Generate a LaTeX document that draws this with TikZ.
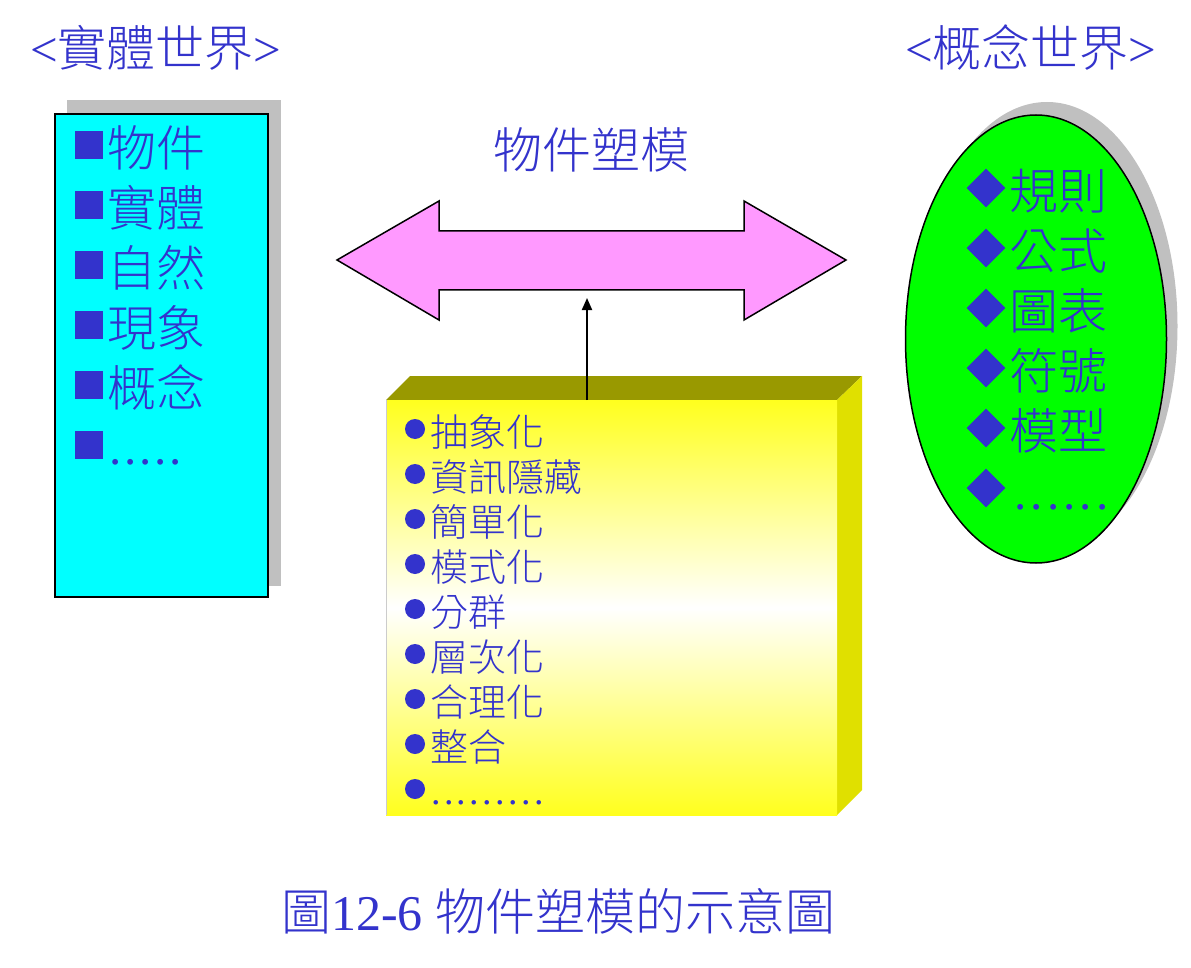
\documentclass[tikz,border=0pt]{standalone}
\usepackage{fontspec}
\setmainfont{Liberation Serif}
\IfFontExistsTF{Noto Sans CJK TC Light}{\newfontfamily\cjk{Noto Sans CJK TC Light}}{\newfontfamily\cjk{Noto Sans CJK TC}}
\newfontfamily\lat{Liberation Serif}
\usetikzlibrary{arrows.meta,shapes.geometric}
\definecolor{txtblue}{RGB}{51,51,204}
\definecolor{cyanbox}{RGB}{0,255,255}
\definecolor{pinkarrow}{RGB}{255,153,255}
\definecolor{greenell}{RGB}{0,255,0}
\definecolor{shadowgray}{RGB}{192,192,192}
\definecolor{olivetop}{RGB}{153,153,0}
\definecolor{yellowside}{RGB}{224,224,0}
\definecolor{yellowfront}{RGB}{255,255,30}
\newcommand\kdots[2]{\foreach \i in {1,...,#1}{.\kern#2}}
\tikzset{
  big/.style={font=\cjk\fontsize{49}{49}\selectfont, text=txtblue, inner sep=0pt, anchor=west},
  mid/.style={font=\cjk\fontsize{38}{38}\selectfont, text=txtblue, inner sep=0pt, anchor=west},
  dotsbig/.style={font=\lat\fontsize{49}{49}\selectfont, text=txtblue, inner sep=0pt, anchor=base west},
  dotsmid/.style={font=\lat\fontsize{38}{38}\selectfont, text=txtblue, inner sep=0pt, anchor=base west},
  sqbullet/.style={rectangle, fill=txtblue, minimum size=28pt, inner sep=0pt},
  circbullet/.style={circle, fill=txtblue, minimum size=20pt, inner sep=0pt},
  diabullet/.style={diamond, fill=txtblue, minimum width=39pt, minimum height=39pt, inner sep=0pt},
  shadowfill/.style={fill=shadowgray, draw=none},
}
\begin{document}
\begin{tikzpicture}[x=1pt,y=-1pt]
\useasboundingbox[fill=white] (0,0) rectangle (1191,968);

% headers
\node[big] (hl) at (30,48) {{\lat <}實體世界{\lat >}};
\node[big] (hr) at (905,48) {{\lat <}概念世界{\lat >}};
\node[big] (om) at (493,150) {物件塑模};

% left box
\path[shadowfill] (67,100) rectangle (281,586);
\draw[fill=cyanbox, line width=2pt] (55,114) rectangle (268,597);
\foreach \t [count=\k from 0] in {物件,實體,自然,現象,概念}{
  \node[sqbullet] (ls\k) at (88.5,{145+60*\k}) {};
  \node[big] (lt\k) at (107,{148+60*\k}) {\t};
}
\node[sqbullet] (ls5) at (88.5,445) {};
\node[dotsbig] (lt5) at (109,464) {\kdots{5}{2.8pt}};

% double arrow
\draw[fill=pinkarrow, line width=1.5pt, line join=miter]
  (337,260) -- (439,201) -- (439,231) -- (744,231) -- (744,201) -- (846,260)
  -- (744,320) -- (744,290) -- (439,290) -- (439,320) -- cycle;
\coordinate (abot) at (587,298);

% yellow box
\fill[olivetop] (386,400) -- (410,376) -- (862,376) -- (837,400) -- cycle;
\fill[yellowside] (837,400) -- (862,376) -- (862,790) -- (837,815) -- cycle;
\node[rectangle, minimum width=451pt, minimum height=415pt, inner sep=0pt,
  top color=yellowfront, bottom color=yellowfront, middle color=white,
  anchor=north west] (front) at (386,400) {};
\draw[white!80!black, line width=0.8pt] (front.north west) -- (front.south west);
\coordinate (atop) at (front.north -| abot);
\draw[line width=2pt, -{Triangle[length=12pt,width=10pt]}] (atop) -- (abot);
\foreach \t [count=\k from 0] in {抽象化,資訊隱藏,簡單化,模式化,分群,層次化,合理化,整合}{
  \node[circbullet] (yb\k) at (415,{429+45*\k}) {};
  \node[mid] (yt\k) at (430,{432+45*\k}) {\t};
}
\node[circbullet] (yb8) at (415,789) {};
\node[dotsmid] (yt8) at (431,804) {\kdots{9}{3.4pt}};

% ellipse
\path[shadowfill] (1047,326) ellipse [x radius=130.5, y radius=224];
\draw[fill=greenell, line width=1.5pt] (1036,339) ellipse [x radius=130.5, y radius=224];
\foreach \t [count=\k from 0] in {規則,公式,圖表,符號,模型}{
  \node[diabullet] (eb\k) at (986,{188+60*\k}) {};
  \node[big] (et\k) at (1009,{191+60*\k}) {\t};
}
\node[diabullet] (eb5) at (986,488) {};
\node[dotsbig] (et5) at (1014,509) {\kdots{6}{4.2pt}};

% caption
\node[big, font=\cjk\fontsize{50}{50}\selectfont] (cap) at (281,911) {圖{\lat 12-6 }物件塑模的示意圖};
\end{tikzpicture}
\end{document}
